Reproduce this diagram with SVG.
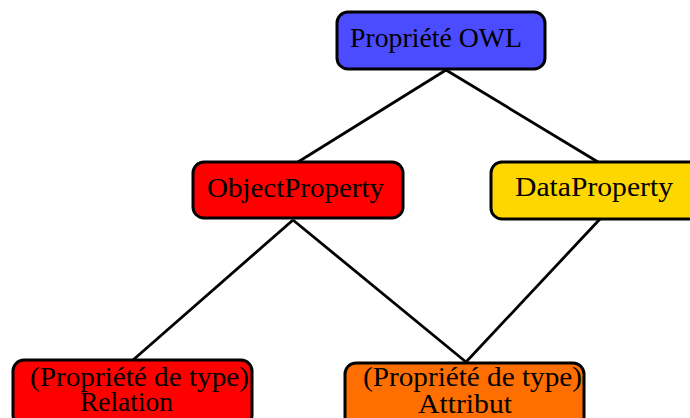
<svg xmlns="http://www.w3.org/2000/svg" width="690" height="418" viewBox="0 0 690 418">
<style>
.box{stroke:#000;stroke-width:3}
.lbl{font-family:"Liberation Serif","Times New Roman",serif;font-size:27px;fill:#000;text-anchor:start}
.edge{stroke:#000;stroke-width:2.8;fill:none}
</style>
<rect width="690" height="418" fill="#fff"/>
<g id="connectors">
<line class="edge" x1="446" y1="70" x2="298" y2="162"/>
<line class="edge" x1="446" y1="70" x2="598" y2="162"/>
<line class="edge" x1="293" y1="220" x2="133" y2="360"/>
<line class="edge" x1="293" y1="220" x2="466" y2="362"/>
<line class="edge" x1="600" y1="219" x2="466" y2="362"/>
</g>
<g id="node-owl">
<rect class="box" x="337" y="12" width="208" height="57" rx="11" fill="#4b4bff"/>
<text class="lbl" x="350" y="47" textLength="172" lengthAdjust="spacingAndGlyphs">Propriété OWL</text>
</g>
<g id="node-object">
<rect class="box" x="193" y="162" width="210" height="56" rx="11" fill="#ff0000"/>
<text class="lbl" x="207" y="197" textLength="177" lengthAdjust="spacingAndGlyphs">ObjectProperty</text>
</g>
<g id="node-data">
<rect class="box" x="491" y="162" width="215" height="57" rx="11" fill="#ffd700"/>
<text class="lbl" x="515" y="196" textLength="158" lengthAdjust="spacingAndGlyphs">DataProperty</text>
</g>
<g id="node-relation">
<rect class="box" x="13" y="360" width="239" height="66" rx="11" fill="#ff0000"/>
<text class="lbl" x="30" y="386" textLength="219" lengthAdjust="spacingAndGlyphs">(Propriété de type)</text>
<text class="lbl" x="80" y="411" textLength="93" lengthAdjust="spacingAndGlyphs">Relation</text>
</g>
<g id="node-attribut">
<rect class="box" x="345" y="363" width="239" height="66" rx="11" fill="#ff6e00"/>
<text class="lbl" x="363" y="386" textLength="219" lengthAdjust="spacingAndGlyphs">(Propriété de type)</text>
<text class="lbl" x="418" y="413" textLength="94" lengthAdjust="spacingAndGlyphs">Attribut</text>
</g>
</svg>
